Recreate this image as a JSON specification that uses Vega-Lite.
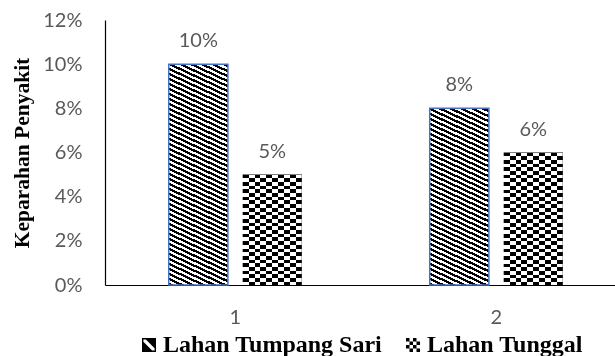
{
  "$schema": "https://vega.github.io/schema/vega-lite/v6.json",
  "autosize": {"type": "none"},
  "padding": {"left": 105, "top": 20, "right": 0, "bottom": 71},
  "width": 510,
  "height": 265,
  "background": "white",
  "config": {"view": {"stroke": null}},
  "data": {"values": [
    {"k": "1", "s": "Lahan Tumpang Sari", "v": 0.10},
    {"k": "1", "s": "Lahan Tunggal", "v": 0.05},
    {"k": "2", "s": "Lahan Tumpang Sari", "v": 0.08},
    {"k": "2", "s": "Lahan Tunggal", "v": 0.06}
  ]},
  "encoding": {
    "x": {"field": "k", "type": "nominal", "sort": null,
      "scale": {"paddingInner": 0.49, "paddingOuter": 0.222, "align": 0.55},
      "axis": {"title": null, "labelAngle": 0, "ticks": false, "labelPadding": 22, "domainColor": "#000", "domainWidth": 1.2,
        "labelColor": "#595959", "labelFont": "Lato", "labelFontSize": 20, "grid": false}},
    "xOffset": {"field": "s", "type": "nominal", "sort": ["Lahan Tumpang Sari", "Lahan Tunggal"],
      "scale": {"paddingInner": 0.2, "paddingOuter": 0}},
    "y": {"field": "v", "type": "quantitative",
      "scale": {"domain": [0, 0.12], "nice": false},
      "axis": {"values": [0, 0.02, 0.04, 0.06, 0.08, 0.1, 0.12], "format": ".0%", "ticks": false, "grid": false,
        "labelPadding": 23, "domainColor": "#000", "domainWidth": 1.2, "labelColor": "#595959", "labelFont": "Lato", "labelFontSize": 20,
        "title": "Keparahan Penyakit", "titleFont": "Liberation Serif", "titleFontWeight": "bold", "titleFontSize": 21.5, "titleColor": "#000",
        "titleX": -83, "titleY": 132.5, "titleBaseline": "middle", "titleAngle": -90}}
  },
  "layer": [
    {
      "mark": {"type": "point", "filled": true, "fill": "#000", "size": 196, "yOffset": 20, "strokeWidth": 0, "opacity": 1},
      "encoding": {
        "shape": {"field": "s", "type": "nominal", "sort": ["Lahan Tumpang Sari", "Lahan Tunggal"],
          "scale": {"domain": ["Lahan Tumpang Sari", "Lahan Tunggal"], "range": [
            "M-1,-1H1V1H-1Z M-0.8,-0.8V0.8H0.8V-0.8Z M-0.45,-0.8L0.8,-0.8L0.8,0.45Z M-0.8,-0.45L0.45,0.8L-0.8,0.8Z",
            "M-1,-1h0.5v0.5h-0.5Z M0,-1h0.5v0.5h-0.5Z M-0.5,-0.5h0.5v0.5h-0.5Z M0.5,-0.5h0.5v0.5h-0.5Z M-1,0h0.5v0.5h-0.5Z M0,0h0.5v0.5h-0.5Z M-0.5,0.5h0.5v0.5h-0.5Z M0.5,0.5h0.5v0.5h-0.5Z"
          ]},
          "legend": {"title": null, "orient": "none", "legendX": 32, "legendY": 313, "direction": "horizontal", "padding": 0,
            "symbolSize": 196, "symbolStrokeWidth": 0, "symbolFillColor": "#000", "labelOffset": 2, "columnPadding": 18,
            "labelFont": "Liberation Serif", "labelFontWeight": "bold", "labelFontSize": 24, "labelColor": "#000", "labelLimit": 300}}
      }
    },
    {
      "mark": {"type": "bar", "strokeWidth": 1.5},
      "encoding": {
        "stroke": {"condition": {"test": "datum.s === 'Lahan Tumpang Sari'", "value": "#4472C4"}, "value": null},
        "fill": {
          "condition": [
            {"test": "datum.k === '1' && datum.s === 'Lahan Tumpang Sari'", "value": {"gradient": "linear", "x1": 0, "y1": 1, "x2": 0.1392, "y2": -0.1149, "stops": [
{"offset":0,"color":"#000"},{"offset":0.01,"color":"#000"},{"offset":0.01,"color":"#fff"},{"offset":0.02,"color":"#fff"},
{"offset":0.02,"color":"#000"},{"offset":0.03,"color":"#000"},{"offset":0.03,"color":"#fff"},{"offset":0.04,"color":"#fff"},
{"offset":0.04,"color":"#000"},{"offset":0.05,"color":"#000"},{"offset":0.05,"color":"#fff"},{"offset":0.06,"color":"#fff"},
{"offset":0.06,"color":"#000"},{"offset":0.07,"color":"#000"},{"offset":0.07,"color":"#fff"},{"offset":0.08,"color":"#fff"},
{"offset":0.08,"color":"#000"},{"offset":0.09,"color":"#000"},{"offset":0.09,"color":"#fff"},{"offset":0.1,"color":"#fff"},
{"offset":0.1,"color":"#000"},{"offset":0.11,"color":"#000"},{"offset":0.11,"color":"#fff"},{"offset":0.12,"color":"#fff"},
{"offset":0.12,"color":"#000"},{"offset":0.13,"color":"#000"},{"offset":0.13,"color":"#fff"},{"offset":0.14,"color":"#fff"},
{"offset":0.14,"color":"#000"},{"offset":0.15,"color":"#000"},{"offset":0.15,"color":"#fff"},{"offset":0.16,"color":"#fff"},
{"offset":0.16,"color":"#000"},{"offset":0.17,"color":"#000"},{"offset":0.17,"color":"#fff"},{"offset":0.18,"color":"#fff"},
{"offset":0.18,"color":"#000"},{"offset":0.19,"color":"#000"},{"offset":0.19,"color":"#fff"},{"offset":0.2,"color":"#fff"},
{"offset":0.2,"color":"#000"},{"offset":0.21,"color":"#000"},{"offset":0.21,"color":"#fff"},{"offset":0.22,"color":"#fff"},
{"offset":0.22,"color":"#000"},{"offset":0.23,"color":"#000"},{"offset":0.23,"color":"#fff"},{"offset":0.24,"color":"#fff"},
{"offset":0.24,"color":"#000"},{"offset":0.25,"color":"#000"},{"offset":0.25,"color":"#fff"},{"offset":0.26,"color":"#fff"},
{"offset":0.26,"color":"#000"},{"offset":0.27,"color":"#000"},{"offset":0.27,"color":"#fff"},{"offset":0.28,"color":"#fff"},
{"offset":0.28,"color":"#000"},{"offset":0.29,"color":"#000"},{"offset":0.29,"color":"#fff"},{"offset":0.3,"color":"#fff"},
{"offset":0.3,"color":"#000"},{"offset":0.31,"color":"#000"},{"offset":0.31,"color":"#fff"},{"offset":0.32,"color":"#fff"},
{"offset":0.32,"color":"#000"},{"offset":0.33,"color":"#000"},{"offset":0.33,"color":"#fff"},{"offset":0.34,"color":"#fff"},
{"offset":0.34,"color":"#000"},{"offset":0.35,"color":"#000"},{"offset":0.35,"color":"#fff"},{"offset":0.36,"color":"#fff"},
{"offset":0.36,"color":"#000"},{"offset":0.37,"color":"#000"},{"offset":0.37,"color":"#fff"},{"offset":0.38,"color":"#fff"},
{"offset":0.38,"color":"#000"},{"offset":0.39,"color":"#000"},{"offset":0.39,"color":"#fff"},{"offset":0.4,"color":"#fff"},
{"offset":0.4,"color":"#000"},{"offset":0.41,"color":"#000"},{"offset":0.41,"color":"#fff"},{"offset":0.42,"color":"#fff"},
{"offset":0.42,"color":"#000"},{"offset":0.43,"color":"#000"},{"offset":0.43,"color":"#fff"},{"offset":0.44,"color":"#fff"},
{"offset":0.44,"color":"#000"},{"offset":0.45,"color":"#000"},{"offset":0.45,"color":"#fff"},{"offset":0.46,"color":"#fff"},
{"offset":0.46,"color":"#000"},{"offset":0.47,"color":"#000"},{"offset":0.47,"color":"#fff"},{"offset":0.48,"color":"#fff"},
{"offset":0.48,"color":"#000"},{"offset":0.49,"color":"#000"},{"offset":0.49,"color":"#fff"},{"offset":0.5,"color":"#fff"},
{"offset":0.5,"color":"#000"},{"offset":0.51,"color":"#000"},{"offset":0.51,"color":"#fff"},{"offset":0.52,"color":"#fff"},
{"offset":0.52,"color":"#000"},{"offset":0.53,"color":"#000"},{"offset":0.53,"color":"#fff"},{"offset":0.54,"color":"#fff"},
{"offset":0.54,"color":"#000"},{"offset":0.55,"color":"#000"},{"offset":0.55,"color":"#fff"},{"offset":0.56,"color":"#fff"},
{"offset":0.56,"color":"#000"},{"offset":0.57,"color":"#000"},{"offset":0.57,"color":"#fff"},{"offset":0.58,"color":"#fff"},
{"offset":0.58,"color":"#000"},{"offset":0.59,"color":"#000"},{"offset":0.59,"color":"#fff"},{"offset":0.6,"color":"#fff"},
{"offset":0.6,"color":"#000"},{"offset":0.61,"color":"#000"},{"offset":0.61,"color":"#fff"},{"offset":0.62,"color":"#fff"},
{"offset":0.62,"color":"#000"},{"offset":0.63,"color":"#000"},{"offset":0.63,"color":"#fff"},{"offset":0.64,"color":"#fff"},
{"offset":0.64,"color":"#000"},{"offset":0.65,"color":"#000"},{"offset":0.65,"color":"#fff"},{"offset":0.66,"color":"#fff"},
{"offset":0.66,"color":"#000"},{"offset":0.67,"color":"#000"},{"offset":0.67,"color":"#fff"},{"offset":0.68,"color":"#fff"},
{"offset":0.68,"color":"#000"},{"offset":0.69,"color":"#000"},{"offset":0.69,"color":"#fff"},{"offset":0.7,"color":"#fff"},
{"offset":0.7,"color":"#000"},{"offset":0.71,"color":"#000"},{"offset":0.71,"color":"#fff"},{"offset":0.72,"color":"#fff"},
{"offset":0.72,"color":"#000"},{"offset":0.73,"color":"#000"},{"offset":0.73,"color":"#fff"},{"offset":0.74,"color":"#fff"},
{"offset":0.74,"color":"#000"},{"offset":0.75,"color":"#000"},{"offset":0.75,"color":"#fff"},{"offset":0.76,"color":"#fff"},
{"offset":0.76,"color":"#000"},{"offset":0.77,"color":"#000"},{"offset":0.77,"color":"#fff"},{"offset":0.78,"color":"#fff"},
{"offset":0.78,"color":"#000"},{"offset":0.79,"color":"#000"},{"offset":0.79,"color":"#fff"},{"offset":0.8,"color":"#fff"},
{"offset":0.8,"color":"#000"},{"offset":0.81,"color":"#000"},{"offset":0.81,"color":"#fff"},{"offset":0.82,"color":"#fff"},
{"offset":0.82,"color":"#000"},{"offset":0.83,"color":"#000"},{"offset":0.83,"color":"#fff"},{"offset":0.84,"color":"#fff"},
{"offset":0.84,"color":"#000"},{"offset":0.85,"color":"#000"},{"offset":0.85,"color":"#fff"},{"offset":0.86,"color":"#fff"},
{"offset":0.86,"color":"#000"},{"offset":0.87,"color":"#000"},{"offset":0.87,"color":"#fff"},{"offset":0.88,"color":"#fff"},
{"offset":0.88,"color":"#000"},{"offset":0.89,"color":"#000"},{"offset":0.89,"color":"#fff"},{"offset":0.9,"color":"#fff"},
{"offset":0.9,"color":"#000"},{"offset":0.91,"color":"#000"},{"offset":0.91,"color":"#fff"},{"offset":0.92,"color":"#fff"},
{"offset":0.92,"color":"#000"},{"offset":0.93,"color":"#000"},{"offset":0.93,"color":"#fff"},{"offset":0.94,"color":"#fff"},
{"offset":0.94,"color":"#000"},{"offset":0.95,"color":"#000"},{"offset":0.95,"color":"#fff"},{"offset":0.96,"color":"#fff"},
{"offset":0.96,"color":"#000"},{"offset":0.97,"color":"#000"},{"offset":0.97,"color":"#fff"},{"offset":0.98,"color":"#fff"},
{"offset":0.98,"color":"#000"},{"offset":0.99,"color":"#000"},{"offset":0.99,"color":"#fff"},{"offset":1,"color":"#fff"}
            ]}},
            {"test": "datum.k === '2' && datum.s === 'Lahan Tumpang Sari'", "value": {"gradient": "linear", "x1": 0, "y1": 1, "x2": 0.2155, "y2": -0.3812, "stops": [
{"offset":0,"color":"#000"},{"offset":0.01,"color":"#000"},{"offset":0.01,"color":"#fff"},{"offset":0.02,"color":"#fff"},
{"offset":0.02,"color":"#000"},{"offset":0.03,"color":"#000"},{"offset":0.03,"color":"#fff"},{"offset":0.04,"color":"#fff"},
{"offset":0.04,"color":"#000"},{"offset":0.05,"color":"#000"},{"offset":0.05,"color":"#fff"},{"offset":0.06,"color":"#fff"},
{"offset":0.06,"color":"#000"},{"offset":0.07,"color":"#000"},{"offset":0.07,"color":"#fff"},{"offset":0.08,"color":"#fff"},
{"offset":0.08,"color":"#000"},{"offset":0.09,"color":"#000"},{"offset":0.09,"color":"#fff"},{"offset":0.1,"color":"#fff"},
{"offset":0.1,"color":"#000"},{"offset":0.11,"color":"#000"},{"offset":0.11,"color":"#fff"},{"offset":0.12,"color":"#fff"},
{"offset":0.12,"color":"#000"},{"offset":0.13,"color":"#000"},{"offset":0.13,"color":"#fff"},{"offset":0.14,"color":"#fff"},
{"offset":0.14,"color":"#000"},{"offset":0.15,"color":"#000"},{"offset":0.15,"color":"#fff"},{"offset":0.16,"color":"#fff"},
{"offset":0.16,"color":"#000"},{"offset":0.17,"color":"#000"},{"offset":0.17,"color":"#fff"},{"offset":0.18,"color":"#fff"},
{"offset":0.18,"color":"#000"},{"offset":0.19,"color":"#000"},{"offset":0.19,"color":"#fff"},{"offset":0.2,"color":"#fff"},
{"offset":0.2,"color":"#000"},{"offset":0.21,"color":"#000"},{"offset":0.21,"color":"#fff"},{"offset":0.22,"color":"#fff"},
{"offset":0.22,"color":"#000"},{"offset":0.23,"color":"#000"},{"offset":0.23,"color":"#fff"},{"offset":0.24,"color":"#fff"},
{"offset":0.24,"color":"#000"},{"offset":0.25,"color":"#000"},{"offset":0.25,"color":"#fff"},{"offset":0.26,"color":"#fff"},
{"offset":0.26,"color":"#000"},{"offset":0.27,"color":"#000"},{"offset":0.27,"color":"#fff"},{"offset":0.28,"color":"#fff"},
{"offset":0.28,"color":"#000"},{"offset":0.29,"color":"#000"},{"offset":0.29,"color":"#fff"},{"offset":0.3,"color":"#fff"},
{"offset":0.3,"color":"#000"},{"offset":0.31,"color":"#000"},{"offset":0.31,"color":"#fff"},{"offset":0.32,"color":"#fff"},
{"offset":0.32,"color":"#000"},{"offset":0.33,"color":"#000"},{"offset":0.33,"color":"#fff"},{"offset":0.34,"color":"#fff"},
{"offset":0.34,"color":"#000"},{"offset":0.35,"color":"#000"},{"offset":0.35,"color":"#fff"},{"offset":0.36,"color":"#fff"},
{"offset":0.36,"color":"#000"},{"offset":0.37,"color":"#000"},{"offset":0.37,"color":"#fff"},{"offset":0.38,"color":"#fff"},
{"offset":0.38,"color":"#000"},{"offset":0.39,"color":"#000"},{"offset":0.39,"color":"#fff"},{"offset":0.4,"color":"#fff"},
{"offset":0.4,"color":"#000"},{"offset":0.41,"color":"#000"},{"offset":0.41,"color":"#fff"},{"offset":0.42,"color":"#fff"},
{"offset":0.42,"color":"#000"},{"offset":0.43,"color":"#000"},{"offset":0.43,"color":"#fff"},{"offset":0.44,"color":"#fff"},
{"offset":0.44,"color":"#000"},{"offset":0.45,"color":"#000"},{"offset":0.45,"color":"#fff"},{"offset":0.46,"color":"#fff"},
{"offset":0.46,"color":"#000"},{"offset":0.47,"color":"#000"},{"offset":0.47,"color":"#fff"},{"offset":0.48,"color":"#fff"},
{"offset":0.48,"color":"#000"},{"offset":0.49,"color":"#000"},{"offset":0.49,"color":"#fff"},{"offset":0.5,"color":"#fff"},
{"offset":0.5,"color":"#000"},{"offset":0.51,"color":"#000"},{"offset":0.51,"color":"#fff"},{"offset":0.52,"color":"#fff"},
{"offset":0.52,"color":"#000"},{"offset":0.53,"color":"#000"},{"offset":0.53,"color":"#fff"},{"offset":0.54,"color":"#fff"},
{"offset":0.54,"color":"#000"},{"offset":0.55,"color":"#000"},{"offset":0.55,"color":"#fff"},{"offset":0.56,"color":"#fff"},
{"offset":0.56,"color":"#000"},{"offset":0.57,"color":"#000"},{"offset":0.57,"color":"#fff"},{"offset":0.58,"color":"#fff"},
{"offset":0.58,"color":"#000"},{"offset":0.59,"color":"#000"},{"offset":0.59,"color":"#fff"},{"offset":0.6,"color":"#fff"},
{"offset":0.6,"color":"#000"},{"offset":0.61,"color":"#000"},{"offset":0.61,"color":"#fff"},{"offset":0.62,"color":"#fff"},
{"offset":0.62,"color":"#000"},{"offset":0.63,"color":"#000"},{"offset":0.63,"color":"#fff"},{"offset":0.64,"color":"#fff"},
{"offset":0.64,"color":"#000"},{"offset":0.65,"color":"#000"},{"offset":0.65,"color":"#fff"},{"offset":0.66,"color":"#fff"},
{"offset":0.66,"color":"#000"},{"offset":0.67,"color":"#000"},{"offset":0.67,"color":"#fff"},{"offset":0.68,"color":"#fff"},
{"offset":0.68,"color":"#000"},{"offset":0.69,"color":"#000"},{"offset":0.69,"color":"#fff"},{"offset":0.7,"color":"#fff"},
{"offset":0.7,"color":"#000"},{"offset":0.71,"color":"#000"},{"offset":0.71,"color":"#fff"},{"offset":0.72,"color":"#fff"},
{"offset":0.72,"color":"#000"},{"offset":0.73,"color":"#000"},{"offset":0.73,"color":"#fff"},{"offset":0.74,"color":"#fff"},
{"offset":0.74,"color":"#000"},{"offset":0.75,"color":"#000"},{"offset":0.75,"color":"#fff"},{"offset":0.76,"color":"#fff"},
{"offset":0.76,"color":"#000"},{"offset":0.77,"color":"#000"},{"offset":0.77,"color":"#fff"},{"offset":0.78,"color":"#fff"},
{"offset":0.78,"color":"#000"},{"offset":0.79,"color":"#000"},{"offset":0.79,"color":"#fff"},{"offset":0.8,"color":"#fff"},
{"offset":0.8,"color":"#000"},{"offset":0.81,"color":"#000"},{"offset":0.81,"color":"#fff"},{"offset":0.82,"color":"#fff"},
{"offset":0.82,"color":"#000"},{"offset":0.83,"color":"#000"},{"offset":0.83,"color":"#fff"},{"offset":0.84,"color":"#fff"},
{"offset":0.84,"color":"#000"},{"offset":0.85,"color":"#000"},{"offset":0.85,"color":"#fff"},{"offset":0.86,"color":"#fff"},
{"offset":0.86,"color":"#000"},{"offset":0.87,"color":"#000"},{"offset":0.87,"color":"#fff"},{"offset":0.88,"color":"#fff"}
            ]}},
            {"test": "datum.k === '1'", "value": {"gradient": "linear", "x1": 0, "y1": 0, "x2": 0, "y2": 1.3406, "stops": [
{"offset":0,"color":"#000"},{"offset":0.025,"color":"#000"},{"offset":0.025,"color":"#fff"},{"offset":0.05,"color":"#fff"},
{"offset":0.05,"color":"#000"},{"offset":0.075,"color":"#000"},{"offset":0.075,"color":"#fff"},{"offset":0.1,"color":"#fff"},
{"offset":0.1,"color":"#000"},{"offset":0.125,"color":"#000"},{"offset":0.125,"color":"#fff"},{"offset":0.15,"color":"#fff"},
{"offset":0.15,"color":"#000"},{"offset":0.175,"color":"#000"},{"offset":0.175,"color":"#fff"},{"offset":0.2,"color":"#fff"},
{"offset":0.2,"color":"#000"},{"offset":0.225,"color":"#000"},{"offset":0.225,"color":"#fff"},{"offset":0.25,"color":"#fff"},
{"offset":0.25,"color":"#000"},{"offset":0.275,"color":"#000"},{"offset":0.275,"color":"#fff"},{"offset":0.3,"color":"#fff"},
{"offset":0.3,"color":"#000"},{"offset":0.325,"color":"#000"},{"offset":0.325,"color":"#fff"},{"offset":0.35,"color":"#fff"},
{"offset":0.35,"color":"#000"},{"offset":0.375,"color":"#000"},{"offset":0.375,"color":"#fff"},{"offset":0.4,"color":"#fff"},
{"offset":0.4,"color":"#000"},{"offset":0.425,"color":"#000"},{"offset":0.425,"color":"#fff"},{"offset":0.45,"color":"#fff"},
{"offset":0.45,"color":"#000"},{"offset":0.475,"color":"#000"},{"offset":0.475,"color":"#fff"},{"offset":0.5,"color":"#fff"},
{"offset":0.5,"color":"#000"},{"offset":0.525,"color":"#000"},{"offset":0.525,"color":"#fff"},{"offset":0.55,"color":"#fff"},
{"offset":0.55,"color":"#000"},{"offset":0.575,"color":"#000"},{"offset":0.575,"color":"#fff"},{"offset":0.6,"color":"#fff"},
{"offset":0.6,"color":"#000"},{"offset":0.625,"color":"#000"},{"offset":0.625,"color":"#fff"},{"offset":0.65,"color":"#fff"},
{"offset":0.65,"color":"#000"},{"offset":0.675,"color":"#000"},{"offset":0.675,"color":"#fff"},{"offset":0.7,"color":"#fff"},
{"offset":0.7,"color":"#000"},{"offset":0.725,"color":"#000"},{"offset":0.725,"color":"#fff"},{"offset":0.75,"color":"#fff"},
{"offset":0.75,"color":"#000"},{"offset":0.775,"color":"#000"},{"offset":0.775,"color":"#fff"},{"offset":0.8,"color":"#fff"},
{"offset":0.8,"color":"#000"},{"offset":0.825,"color":"#000"},{"offset":0.825,"color":"#fff"},{"offset":0.85,"color":"#fff"},
{"offset":0.85,"color":"#000"},{"offset":0.875,"color":"#000"},{"offset":0.875,"color":"#fff"},{"offset":0.9,"color":"#fff"},
{"offset":0.9,"color":"#000"},{"offset":0.925,"color":"#000"},{"offset":0.925,"color":"#fff"},{"offset":0.95,"color":"#fff"},
{"offset":0.95,"color":"#000"},{"offset":0.975,"color":"#000"},{"offset":0.975,"color":"#fff"},{"offset":1,"color":"#fff"}
            ]}}
          ],
          "value": {"gradient": "linear", "x1": 0, "y1": 0, "x2": 0, "y2": 1.117, "stops": [
{"offset":0,"color":"#000"},{"offset":0.025,"color":"#000"},{"offset":0.025,"color":"#fff"},{"offset":0.05,"color":"#fff"},
{"offset":0.05,"color":"#000"},{"offset":0.075,"color":"#000"},{"offset":0.075,"color":"#fff"},{"offset":0.1,"color":"#fff"},
{"offset":0.1,"color":"#000"},{"offset":0.125,"color":"#000"},{"offset":0.125,"color":"#fff"},{"offset":0.15,"color":"#fff"},
{"offset":0.15,"color":"#000"},{"offset":0.175,"color":"#000"},{"offset":0.175,"color":"#fff"},{"offset":0.2,"color":"#fff"},
{"offset":0.2,"color":"#000"},{"offset":0.225,"color":"#000"},{"offset":0.225,"color":"#fff"},{"offset":0.25,"color":"#fff"},
{"offset":0.25,"color":"#000"},{"offset":0.275,"color":"#000"},{"offset":0.275,"color":"#fff"},{"offset":0.3,"color":"#fff"},
{"offset":0.3,"color":"#000"},{"offset":0.325,"color":"#000"},{"offset":0.325,"color":"#fff"},{"offset":0.35,"color":"#fff"},
{"offset":0.35,"color":"#000"},{"offset":0.375,"color":"#000"},{"offset":0.375,"color":"#fff"},{"offset":0.4,"color":"#fff"},
{"offset":0.4,"color":"#000"},{"offset":0.425,"color":"#000"},{"offset":0.425,"color":"#fff"},{"offset":0.45,"color":"#fff"},
{"offset":0.45,"color":"#000"},{"offset":0.475,"color":"#000"},{"offset":0.475,"color":"#fff"},{"offset":0.5,"color":"#fff"},
{"offset":0.5,"color":"#000"},{"offset":0.525,"color":"#000"},{"offset":0.525,"color":"#fff"},{"offset":0.55,"color":"#fff"},
{"offset":0.55,"color":"#000"},{"offset":0.575,"color":"#000"},{"offset":0.575,"color":"#fff"},{"offset":0.6,"color":"#fff"},
{"offset":0.6,"color":"#000"},{"offset":0.625,"color":"#000"},{"offset":0.625,"color":"#fff"},{"offset":0.65,"color":"#fff"},
{"offset":0.65,"color":"#000"},{"offset":0.675,"color":"#000"},{"offset":0.675,"color":"#fff"},{"offset":0.7,"color":"#fff"},
{"offset":0.7,"color":"#000"},{"offset":0.725,"color":"#000"},{"offset":0.725,"color":"#fff"},{"offset":0.75,"color":"#fff"},
{"offset":0.75,"color":"#000"},{"offset":0.775,"color":"#000"},{"offset":0.775,"color":"#fff"},{"offset":0.8,"color":"#fff"},
{"offset":0.8,"color":"#000"},{"offset":0.825,"color":"#000"},{"offset":0.825,"color":"#fff"},{"offset":0.85,"color":"#fff"},
{"offset":0.85,"color":"#000"},{"offset":0.875,"color":"#000"},{"offset":0.875,"color":"#fff"},{"offset":0.9,"color":"#fff"},
{"offset":0.9,"color":"#000"},{"offset":0.925,"color":"#000"},{"offset":0.925,"color":"#fff"},{"offset":0.95,"color":"#fff"},
{"offset":0.95,"color":"#000"},{"offset":0.975,"color":"#000"},{"offset":0.975,"color":"#fff"},{"offset":1,"color":"#fff"}
          ]}
        }
      }
    },
    {
      "transform": [{"filter": "datum.s === 'Lahan Tunggal'"}],
      "mark": {"type": "bar", "blend": "difference", "fill": {"gradient": "linear", "x1": 0, "y1": 0, "x2": 4, "y2": 0, "stops": [
{"offset":0,"color":"#000"},{"offset":0.025,"color":"#000"},{"offset":0.025,"color":"#fff"},{"offset":0.05,"color":"#fff"},
{"offset":0.05,"color":"#000"},{"offset":0.075,"color":"#000"},{"offset":0.075,"color":"#fff"},{"offset":0.1,"color":"#fff"},
{"offset":0.1,"color":"#000"},{"offset":0.125,"color":"#000"},{"offset":0.125,"color":"#fff"},{"offset":0.15,"color":"#fff"},
{"offset":0.15,"color":"#000"},{"offset":0.175,"color":"#000"},{"offset":0.175,"color":"#fff"},{"offset":0.2,"color":"#fff"},
{"offset":0.2,"color":"#000"},{"offset":0.225,"color":"#000"},{"offset":0.225,"color":"#fff"},{"offset":0.25,"color":"#fff"},
{"offset":0.25,"color":"#000"},{"offset":0.275,"color":"#000"},{"offset":0.275,"color":"#fff"},{"offset":0.3,"color":"#fff"}
      ]}},
      "encoding": {}
    },
    {
      "mark": {"type": "text", "baseline": "alphabetic", "dy": -17, "font": "Lato", "fontSize": 20, "color": "#595959"},
      "encoding": {"text": {"field": "v", "type": "quantitative", "format": ".0%"}}
    }
  ]
}
